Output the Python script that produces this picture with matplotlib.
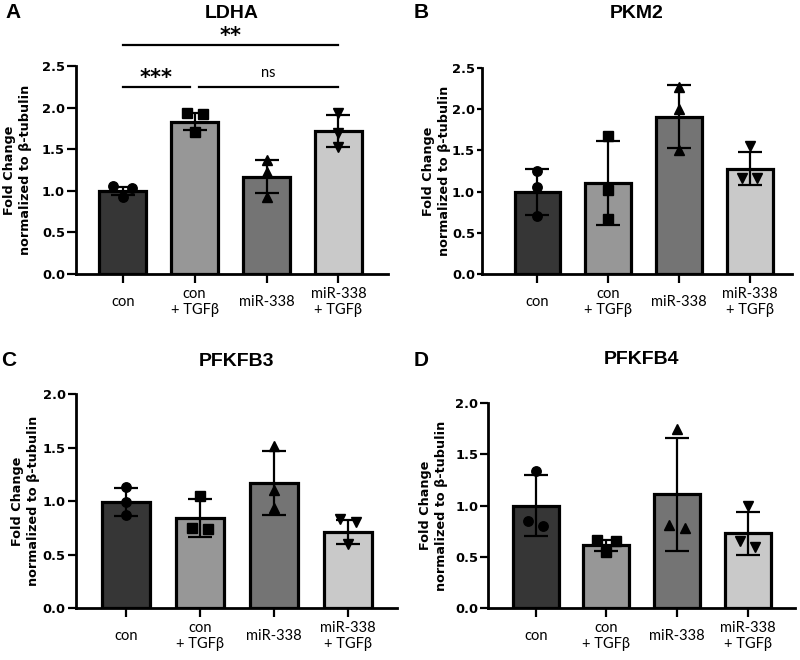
import matplotlib
matplotlib.use("Agg")
import matplotlib.pyplot as plt
import numpy as np

plt.rcParams['font.family'] = ['Liberation Sans', 'DejaVu Sans']

categories = ["con", "con\n+ TGFβ", "miR-338", "miR-338\n+ TGFβ"]
bar_colors = ["#363636", "#979797", "#747474", "#c9c9c9"]
markers = ["o", "s", "^", "v"]

# LDHA
ldha_mean = [1.00, 1.83, 1.17, 1.72]
ldha_sd = [0.05, 0.10, 0.20, 0.19]
ldha_pts = [[1.06, 1.03, 0.93], [1.93, 1.92, 1.71], [1.37, 1.22, 0.93], [1.93, 1.70, 1.53]]
# PKM2
pkm2_mean = [0.99, 1.11, 1.91, 1.28]
pkm2_sd = [0.28, 0.51, 0.38, 0.20]
pkm2_pts = [[1.25, 1.05, 0.70], [1.68, 1.02, 0.67], [2.27, 2.00, 1.50], [1.55, 1.17, 1.17]]
# PFKFB3
pfkfb3_mean = [0.99, 0.84, 1.17, 0.71]
pfkfb3_sd = [0.13, 0.18, 0.30, 0.11]
pfkfb3_pts = [[1.13, 0.99, 0.87], [1.05, 0.74, 0.75], [1.51, 1.10, 0.93], [0.83, 0.80, 0.60]]
# PFKFB4
pfkfb4_mean = [1.00, 0.61, 1.11, 0.73]
pfkfb4_sd = [0.30, 0.055, 0.55, 0.21]
pfkfb4_pts = [[1.34, 0.80, 0.85], [0.66, 0.65, 0.55], [1.75, 0.78, 0.81], [1.00, 0.60, 0.65]]

W, H = 800, 660
fig = plt.figure(figsize=(8, 6.6), dpi=100)

def px_rect(left, right, bottom, top):
    return [left / W, 1 - bottom / H, (right - left) / W, (bottom - top) / H]

def jitter(vals, thr, step=0.11):
    order = np.argsort(vals)[::-1]
    offs = np.zeros(len(vals))
    clusters = []
    cur = [order[0]]
    for i in order[1:]:
        if abs(vals[cur[-1]] - vals[i]) < thr:
            cur.append(i)
        else:
            clusters.append(cur)
            cur = [i]
    clusters.append(cur)
    for c in clusters:
        n = len(c)
        if n == 2:
            offs[c[0]] = -step
            offs[c[1]] = step
        elif n == 3:
            offs[c[0]] = -step * 1.2
            offs[c[1]] = step * 1.2
            offs[c[2]] = 0
    return offs

BOLD_FAM = ["DejaVu Sans"]

def panel(rect, xlim, ymax, yticks, means, sds, pts, title, letter, letter_xy, title_y,
          ylab_x, ytick_len):
    ax = fig.add_axes(rect)
    x = np.arange(len(categories))
    ax.bar(x, means, width=0.65, color=bar_colors, edgecolor="black", linewidth=2.3, zorder=2)
    ax.errorbar(x, means, yerr=sds, fmt="none", ecolor="black", elinewidth=1.6,
                capsize=8.5, capthick=1.6, zorder=4)
    for i in range(len(categories)):
        v = np.array(pts[i])
        offs = jitter(v, 0.05 * ymax)
        ax.plot(x[i] + offs, v, linestyle="none", marker=markers[i], color="black",
                markersize=6.8, zorder=5, clip_on=False)
    ax.set_xlim(*xlim)
    ax.set_ylim(0, ymax)
    ax.set_yticks(yticks)
    ax.set_yticklabels([f"{t:.1f}" for t in yticks], fontsize=9.4, fontweight="bold",
                       family=BOLD_FAM)
    ax.set_xticks(x)
    ax.set_xticklabels(categories, fontsize=10.5, family=["Lato", "DejaVu Sans"],
                       va="center", linespacing=1.15)
    ax.tick_params(axis="x", length=6.5, width=1.6, pad=13.5)
    ax.tick_params(axis="y", length=ytick_len, width=1.6, pad=1.5)
    for s in ["top", "right"]:
        ax.spines[s].set_visible(False)
    for s in ["left", "bottom"]:
        ax.spines[s].set_linewidth(2.0)
    cx = rect[0] + rect[2] / 2
    fig.text(cx, 1 - title_y / H, title, ha="center", va="center", fontsize=14, fontweight="bold")
    fig.text(letter_xy[0] / W, 1 - letter_xy[1] / H, letter, ha="center", va="center",
             fontsize=15, fontweight="bold")
    fig.text(ylab_x / W, rect[1] + rect[3] / 2, "Fold Change\nnormalized to β-tubulin",
             rotation=90, ha="center", va="center", fontsize=9.2, fontweight="bold",
             family=BOLD_FAM, multialignment="center", linespacing=1.3)
    return ax

axA = panel(px_rect(76, 388, 274, 66), (-0.65, 3.69), 2.5, [0, 0.5, 1.0, 1.5, 2.0, 2.5],
            ldha_mean, ldha_sd, ldha_pts, "LDHA", "A", (13, 13), 13, 18, 6.5)
panel(px_rect(482, 792, 274, 68), (-0.785, 3.6), 2.5, [0, 0.5, 1.0, 1.5, 2.0, 2.5],
      pkm2_mean, pkm2_sd, pkm2_pts, "PKM2", "B", (421, 13), 13, 436, 3.5)
panel(px_rect(76, 397, 608, 394), (-0.68, 3.66), 2.0, [0, 0.5, 1.0, 1.5, 2.0],
      pfkfb3_mean, pfkfb3_sd, pfkfb3_pts, "PFKFB3", "C", (9, 361), 362, 26, 6)
panel(px_rect(488, 795, 608, 403), (-0.675, 3.67), 2.0, [0, 0.5, 1.0, 1.5, 2.0],
      pfkfb4_mean, pfkfb4_sd, pfkfb4_pts, "PFKFB4", "D", (421, 360), 360, 433, 5.5)

# significance annotations for LDHA
sig_lines = [(0, 0.93, 2.25, "***", 2.41), (1.06, 3, 2.25, "ns", 2.42), (0, 3, 2.75, "**", 2.91)]
for x0, x1, yl, lab, yt in sig_lines:
    axA.plot([x0, x1], [yl, yl], color="black", linewidth=1.6, clip_on=False)
    if lab == "ns":
        axA.text((x0 + x1) / 2, yt, lab, ha="center", va="center", fontsize=10.5,
                 family=["Lato", "DejaVu Sans"], clip_on=False)
    else:
        axA.text((x0 + x1) / 2, yt - 0.05, lab, ha="center", va="center", fontsize=15,
                 fontweight="bold", family=BOLD_FAM, clip_on=False)

fig.savefig("out.png", dpi=100, facecolor="white")
